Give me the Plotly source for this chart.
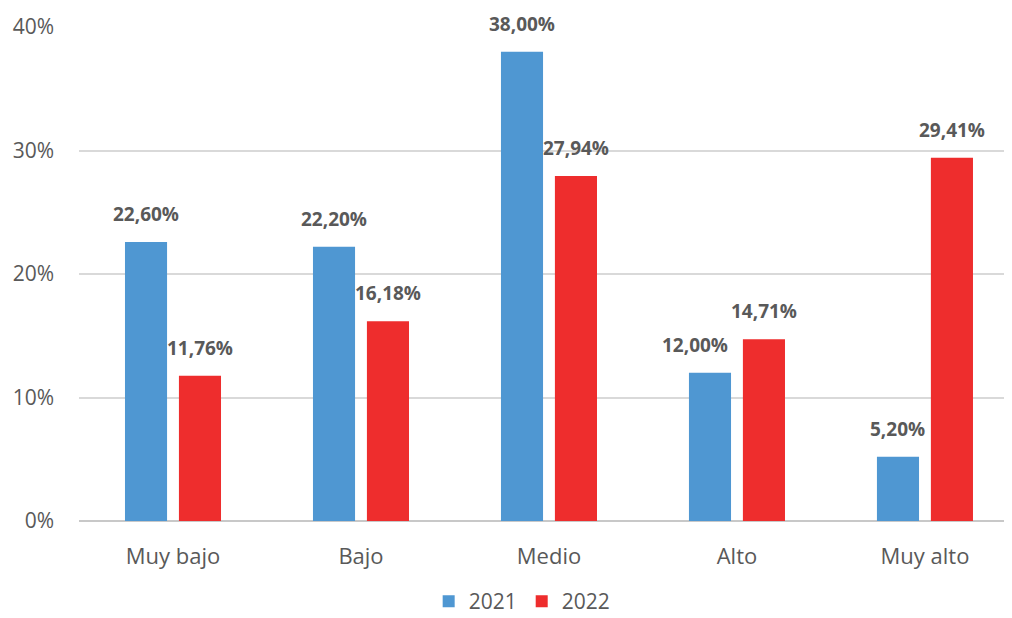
import plotly.graph_objects as go

categories = ["Muy bajo", "Bajo", "Medio", "Alto", "Muy alto"]
values_2021 = [22.60, 22.20, 38.00, 12.00, 5.20]
values_2022 = [11.76, 16.18, 27.94, 14.71, 29.41]
series_names = ["2021", "2022"]
y_ticks = [0, 10, 20, 30, 40]
y_ticklabels = ["0%", "10%", "20%", "30%", "40%"]

colors = ["#4f97d2", "#ee2d2d"]
label_color = "#595959"

fig = go.Figure()
for name, vals, col in zip(series_names, [values_2021, values_2022], colors):
    fig.add_trace(go.Bar(x=categories, y=vals, name=name, marker=dict(color=col, line=dict(width=0))))

def fmt(v):
    return f"{v:.2f}".replace(".", ",") + "%"

annotations = []
for si, vals in enumerate([values_2021, values_2022]):
    for ci, v in enumerate(vals):
        xshift = -27 if si == 0 else 27
        if categories[ci] == "Alto" and si == 0:
            xshift -= 15
        annotations.append(dict(
            x=categories[ci], y=v, xref="x", yref="y", text=fmt(v), showarrow=False,
            xshift=xshift, yshift=28, yanchor="middle",
            font=dict(family="Open Sans", size=19, color=label_color, weight="bold")))

fig.update_layout(
    width=1004, height=610,
    margin=dict(l=71, r=0, t=19, b=97, autoexpand=False),
    paper_bgcolor="white", plot_bgcolor="white",
    barmode="group", bargap=0.426, bargroupgap=0.22,
    font=dict(family="Open Sans", color=label_color, size=22),
    showlegend=True,
    legend=dict(orientation="h", x=0.475, xanchor="center", y=-0.163, yanchor="middle",
                font=dict(size=21, color=label_color), itemwidth=30, traceorder="normal"),
    annotations=annotations,
)
fig.update_xaxes(range=[-0.5, 4.463], showgrid=False, showline=False, zeroline=False,
                 automargin=False,
                 ticks="", ticklabelstandoff=20, tickfont=dict(size=22, color=label_color))
fig.update_yaxes(range=[0, 40], tickvals=y_ticks, ticktext=y_ticklabels,
                 showgrid=True, gridcolor="#d9d9d9", gridwidth=2, automargin=False,
                 zeroline=True, zerolinecolor="#c8c8c8", zerolinewidth=2,
                 showline=False, ticks="", ticklabelstandoff=24,
                 tickfont=dict(size=21, color=label_color))

fig.write_html("out.html")
